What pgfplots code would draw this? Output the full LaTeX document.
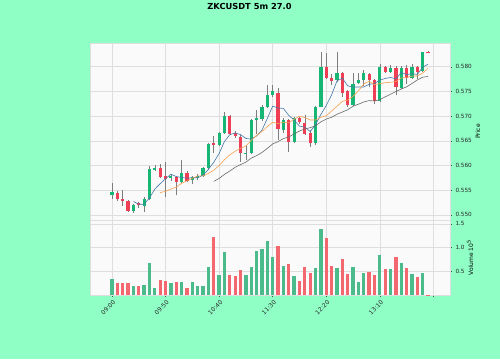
\documentclass[border=0pt]{standalone}
\usepackage{pgfplots}
\pgfplotsset{compat=1.18}
\usepackage{pgfplotstable}
\usepackage{fontspec}
\setmainfont{DejaVu Sans}
\definecolor{bggreen}{RGB}{143,255,198}
\definecolor{facecol}{RGB}{250,250,250}
\definecolor{cup}{RGB}{24,182,116}
\definecolor{cdn}{RGB}{240,62,84}
\definecolor{vup}{RGB}{76,187,140}
\definecolor{vdn}{RGB}{242,104,110}
\definecolor{wick}{RGB}{125,125,125}
\definecolor{maA}{RGB}{70,120,170}
\definecolor{maB}{RGB}{244,160,80}
\definecolor{maC}{RGB}{105,105,105}
\definecolor{gridc}{RGB}{222,222,222}

\pgfplotstableread{
x o h l c
0 0.5540 0.5565 0.5532 0.5547
4 0.5508 0.5523 0.5504 0.5521
6 0.5519 0.5536 0.5505 0.5532
7 0.5532 0.5598 0.5530 0.5592
8 0.5591 0.5601 0.5589 0.5594
11 0.5574 0.5583 0.5569 0.5579
13 0.5567 0.5611 0.5565 0.5585
15 0.5571 0.5578 0.5562 0.5576
16 0.5574 0.5582 0.5570 0.5579
17 0.5579 0.5597 0.5577 0.5594
18 0.5594 0.5645 0.5590 0.5643
20 0.5642 0.5668 0.5640 0.5665
21 0.5665 0.5709 0.5663 0.5700
25 0.5624 0.5642 0.5612 0.5626
26 0.5625 0.5694 0.5623 0.5692
27 0.5692 0.5712 0.5664 0.5696
28 0.5694 0.5722 0.5690 0.5719
29 0.5719 0.5763 0.5717 0.5743
30 0.5743 0.5762 0.5738 0.5751
32 0.5672 0.5697 0.5665 0.5692
34 0.5648 0.5699 0.5645 0.5696
38 0.5646 0.5720 0.5642 0.5719
39 0.5719 0.5830 0.5718 0.5800
42 0.5773 0.5830 0.5770 0.5787
45 0.5722 0.5787 0.5720 0.5766
46 0.5768 0.5787 0.5766 0.5773
47 0.5773 0.5794 0.5760 0.5787
50 0.5731 0.5806 0.5729 0.5800
52 0.5790 0.5803 0.5787 0.5797
54 0.5756 0.5801 0.5754 0.5797
56 0.5778 0.5806 0.5776 0.5799
58 0.5792 0.5830 0.5790 0.5830
}\upcandles

\pgfplotstableread{
x o h l c
1 0.5545 0.5548 0.5528 0.5532
2 0.5532 0.5550 0.5518 0.5528
3 0.5528 0.5530 0.5505 0.5508
5 0.5524 0.5526 0.5514 0.5521
9 0.5594 0.5604 0.5574 0.5576
10 0.5579 0.5608 0.5537 0.5572
12 0.5576 0.5579 0.5540 0.5567
14 0.5585 0.5588 0.5566 0.5569
19 0.5645 0.5659 0.5626 0.5641
22 0.5700 0.5702 0.5662 0.5663
23 0.5665 0.5670 0.5656 0.5660
24 0.5657 0.5662 0.5608 0.5625
31 0.5747 0.5757 0.5652 0.5673
33 0.5692 0.5694 0.5628 0.5648
35 0.5697 0.5699 0.5685 0.5689
36 0.5687 0.5702 0.5662 0.5664
37 0.5666 0.5672 0.5638 0.5646
40 0.5800 0.5827 0.5775 0.5778
41 0.5778 0.5785 0.5762 0.5772
43 0.5787 0.5789 0.5738 0.5747
44 0.5751 0.5752 0.5719 0.5722
48 0.5785 0.5787 0.5758 0.5773
49 0.5773 0.5775 0.5724 0.5731
51 0.5800 0.5801 0.5787 0.5790
53 0.5797 0.5801 0.5743 0.5758
55 0.5797 0.5803 0.5765 0.5778
57 0.5799 0.5801 0.5776 0.5790
59 0.5830 0.5831 0.5829 0.5829
}\dncandles

\pgfplotstableread{
x v
0 0.34
4 0.18
6 0.21
7 0.68
8 0.15
11 0.25
13 0.27
15 0.27
16 0.18
17 0.18
18 0.58
20 0.43
21 0.91
25 0.43
26 0.58
27 0.93
28 0.96
29 1.13
30 0.80
32 0.61
34 0.40
38 0.56
39 1.38
42 0.57
45 0.60
46 0.27
47 0.46
50 0.84
52 0.54
54 0.68
56 0.44
58 0.47
}\upvol

\pgfplotstableread{
x v
1 0.25
2 0.25
3 0.25
5 0.18
9 0.32
10 0.29
12 0.27
14 0.15
19 1.23
22 0.43
23 0.39
24 0.53
31 1.04
33 0.66
35 0.30
36 0.58
37 0.46
40 1.20
41 0.62
43 0.76
44 0.44
48 0.49
49 0.42
51 0.55
53 0.81
55 0.57
57 0.38
59 0.01
}\dnvol

\pgfplotsset{
  panel/.style={
    scale only axis,
    width=360pt,
    xmin=-4.1, xmax=63.1,
    axis background/.style={fill=facecol},
    axis line style={draw=gridc},
    grid=major,
    grid style={draw=gridc, line width=0.5pt},
    xtick={0,10,20,30,40,50,60},
    ytick pos=right,
    yticklabel pos=right,
    tick align=outside,
    major tick length=2pt,
    tick style={color=black!70, line width=0.4pt},
    tick label style={font=\fontsize{5.7}{6.5}\selectfont, text=black!85},
    /pgf/number format/assume math mode=true,
    scaled ticks=false,
    clip=true,
  },
  stick/.style 2 args={draw=none, mark=none, forget plot,
    error bars/.cd, y dir=plus, y explicit, error mark=none,
    error bar style={draw=#1, line width=#2}},
}

\begin{document}
\begin{tikzpicture}[x=1pt,y=1pt]
\fill[bggreen] (0,0) rectangle (500,359);
\useasboundingbox (0,0) rectangle (500,359);
\node[font=\bfseries\fontsize{8.3}{10}\selectfont] at (249.5,352.2) {ZKCUSDT 5m 27.0};

% price panel
\begin{axis}[panel,
  at={(90pt,139pt)}, anchor=south west,
  height=177pt,
  ymin=0.54897, ymax=0.5848,
  ytick={0.550,0.555,0.560,0.565,0.570,0.575,0.580},
  yticklabel style={/pgf/number format/fixed, /pgf/number format/fixed zerofill, /pgf/number format/precision=3},
  xticklabels={},
  major x tick style={draw=none},
  ylabel={Price},
  every axis y label/.style={at={(axis description cs:1.061,0.5)}, anchor=north, rotate=90, font=\fontsize{6}{7}\selectfont},
]
% wicks
\addplot[stick={wick}{0.6pt}] table[x=x, y=l, y error expr=\thisrow{h}-\thisrow{l}] {\upcandles};
\addplot[stick={wick}{0.6pt}] table[x=x, y=l, y error expr=\thisrow{h}-\thisrow{l}] {\dncandles};
% bodies
\addplot[stick={cup}{3.2pt}] table[x=x, y=o, y error expr=\thisrow{c}-\thisrow{o}] {\upcandles};
\addplot[stick={cdn}{3.2pt}] table[x=x, y=c, y error expr=\thisrow{o}-\thisrow{c}] {\dncandles};
% moving averages
\addplot[maA, line width=0.6pt, mark=none] coordinates {
(4,0.55272)(5,0.55216)(6,0.55216)(7,0.55344)(8,0.55522)(9,0.55632)(10,0.55732)(11,0.55826)(12,0.55776)(13,0.55758)
(14,0.55744)(15,0.55752)(16,0.55752)(17,0.55806)(18,0.55922)(19,0.56066)(20,0.56244)(21,0.56486)(22,0.56624)(23,0.56658)
(24,0.56626)(25,0.56548)(26,0.56532)(27,0.56598)(28,0.56716)(29,0.56952)(30,0.57202)(31,0.57164)(32,0.57156)(33,0.57014)
(34,0.56920)(35,0.56796)(36,0.56778)(37,0.56686)(38,0.56828)(39,0.57036)(40,0.57214)(41,0.57430)(42,0.57712)(43,0.57768)
(44,0.57612)(45,0.57588)(46,0.57590)(47,0.57590)(48,0.57642)(49,0.57660)(50,0.57728)(51,0.57762)(52,0.57782)(53,0.57752)
(54,0.57884)(55,0.57840)(56,0.57858)(57,0.57844)(58,0.57988)(59,0.58052)};
\addplot[maB, line width=0.6pt, mark=none] coordinates {
(9,0.55452)(10,0.55477)(11,0.55524)(12,0.55563)(13,0.55640)(14,0.55688)(15,0.55742)(16,0.55789)(17,0.55791)(18,0.55840)
(19,0.55905)(20,0.55998)(21,0.56119)(22,0.56215)(23,0.56290)(24,0.56346)(25,0.56396)(26,0.56509)(27,0.56611)(28,0.56687)
(29,0.56789)(30,0.56875)(31,0.56848)(32,0.56877)(33,0.56865)(34,0.56936)(35,0.56999)(36,0.56971)(37,0.56921)(38,0.56921)
(39,0.56978)(40,0.57005)(41,0.57104)(42,0.57199)(43,0.57298)(44,0.57324)(45,0.57401)(46,0.57510)(47,0.57651)(48,0.57705)
(49,0.57636)(50,0.57658)(51,0.57676)(52,0.57686)(53,0.57697)(54,0.57772)(55,0.57784)(56,0.57810)(57,0.57813)(58,0.57870)(59,0.57968)};
\addplot[maC, line width=0.6pt, mark=none] coordinates {
(19,0.556785)(20,0.557375)(21,0.558215)(22,0.55889)(23,0.55965)(24,0.56017)(25,0.56069)(26,0.56149)(27,0.56201)(28,0.562635)
(29,0.56347)(30,0.564365)(31,0.564835)(32,0.56546)(33,0.565775)(34,0.56641)(35,0.566975)(36,0.5674)(37,0.56766)(38,0.56804)
(39,0.568835)(40,0.5694)(41,0.56976)(42,0.57038)(43,0.570815)(44,0.5713)(45,0.572)(46,0.572405)(47,0.57286)(48,0.57313)
(49,0.57307)(50,0.573315)(51,0.5739)(52,0.574425)(53,0.574975)(54,0.57548)(55,0.575925)(56,0.5766)(57,0.57732)(58,0.577875)(59,0.57802)};
\end{axis}

% volume panel
\begin{axis}[panel,
  at={(90pt,64pt)}, anchor=south west,
  height=75pt,
  ymin=0, ymax=1.58,
  ytick={0.5,1.0,1.5},
  yticklabel style={/pgf/number format/fixed, /pgf/number format/fixed zerofill, /pgf/number format/precision=1},
  xtick pos=bottom,
  xticklabels={09:00,09:50,10:40,11:30,12:20,13:10,{}},
  xticklabel style={rotate=45, anchor=north east, xshift=2pt, yshift=1pt, font=\fontsize{6}{7}\selectfont},
  ylabel={Volume 10\textsuperscript{5}},
  every axis y label/.style={at={(axis description cs:1.0375,0.5)}, anchor=north, rotate=90, font=\fontsize{6}{7}\selectfont},
]
\addplot[ycomb, vup, line width=3.3pt, mark=none] table[x=x, y=v] {\upvol};
\addplot[ycomb, vdn, line width=3.3pt, mark=none] table[x=x, y=v] {\dnvol};
\end{axis}
\end{tikzpicture}
\end{document}
